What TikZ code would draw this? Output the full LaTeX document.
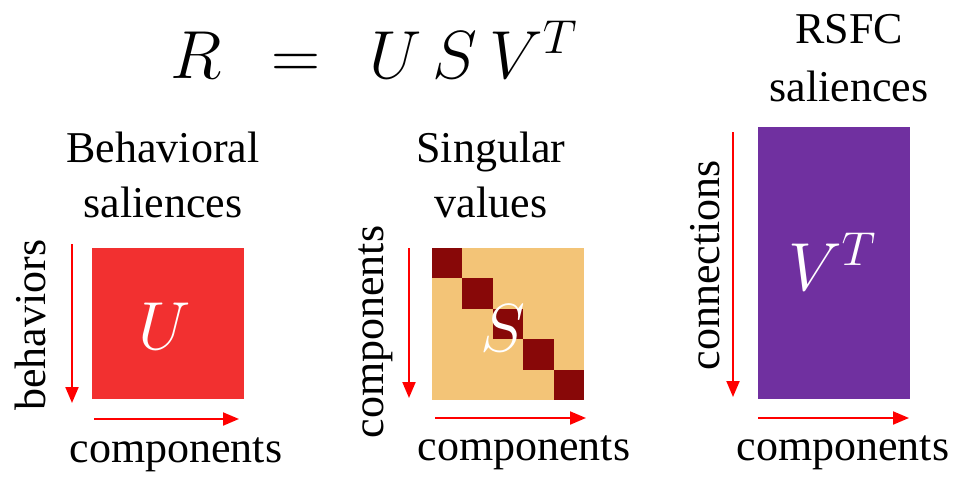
\RequirePackage{fix-cm}
\documentclass[tikz,border=0pt]{standalone}
\usepackage{fontspec}
\setmainfont{Liberation Serif}
\usetikzlibrary{arrows.meta}
\definecolor{ured}{HTML}{F23030}
\definecolor{stan}{HTML}{F3C477}
\definecolor{sdark}{HTML}{880808}
\definecolor{vpurple}{HTML}{7030A0}
\begin{document}
\begin{tikzpicture}[x=1pt,y=-1pt]
\tikzset{
  mat/.style={draw=none, inner sep=0, anchor=north west, minimum width=152pt},
  lbl/.style={font=\fontsize{44}{55}\selectfont, inner sep=0},
  title/.style={lbl, align=center},
  axis/.style={red, line width=2pt, -{Triangle[length=16pt,width=13pt]}},
  big/.style={font=\fontsize{68}{80}\selectfont, text=white, inner sep=0}
}
\useasboundingbox (0,0) rectangle (958,477);

% equation
\node[font=\fontsize{68}{80}\selectfont, inner sep=0] (eq) at (374,50)
  {$R\;\,=\;\,U\,S\,V^T$};

% matrices
\node[mat, fill=ured, minimum height=151pt] (U) at (92,248) {};
\node[mat, fill=stan, minimum height=152pt] (S) at (432,248) {};
\foreach \i in {0,...,4}
  \fill[sdark] (432+\i*30.4,248+\i*30.4) rectangle ++(30.4,30.4);
\node[mat, fill=vpurple, minimum height=272pt] (V) at (758,127) {};

\node[big] (Ul) at (165,326) {$U$};
\node[big] (Sl) at (503,328) {$S$};
\node[big] (Vl) at (832,262) {$V^T$};

% titles
\node[title] (Ut) at (163,175) {Behavioral\\saliences};
\node[title] (St) at (491,175) {Singular\\values};
\node[title, font=\fontsize{44}{58}\selectfont] (Vt) at (849,58) {RSFC\\saliences};

% axis arrows
\coordinate (ua0) at (72,244);  \coordinate (ua1) at (72,403);
\coordinate (ub0) at (94,419);  \coordinate (ub1) at (239,419);
\coordinate (sa0) at (409,248); \coordinate (sa1) at (409,398);
\coordinate (sb0) at (435,418); \coordinate (sb1) at (586,418);
\coordinate (va0) at (733,132); \coordinate (va1) at (733,397);
\coordinate (vb0) at (758,418); \coordinate (vb1) at (909,418);
\draw[axis] (ua0) -- (ua1);
\draw[axis] (ub0) -- (ub1);
\draw[axis] (sa0) -- (sa1);
\draw[axis] (sb0) -- (sb1);
\draw[axis] (va0) -- (va1);
\draw[axis] (vb0) -- (vb1);

% axis labels
\node[lbl, rotate=90] (Ur) at (30,325) {behaviors};
\node[lbl] (Uc) at (176,455) {components};
\node[lbl, rotate=90] (Sr) at (376,332) {components};
\node[lbl] (Sc) at (524,453) {components};
\node[lbl, rotate=90] (Vr) at (705,265) {connections};
\node[lbl] (Vc) at (843,453) {components};
\end{tikzpicture}
\end{document}
